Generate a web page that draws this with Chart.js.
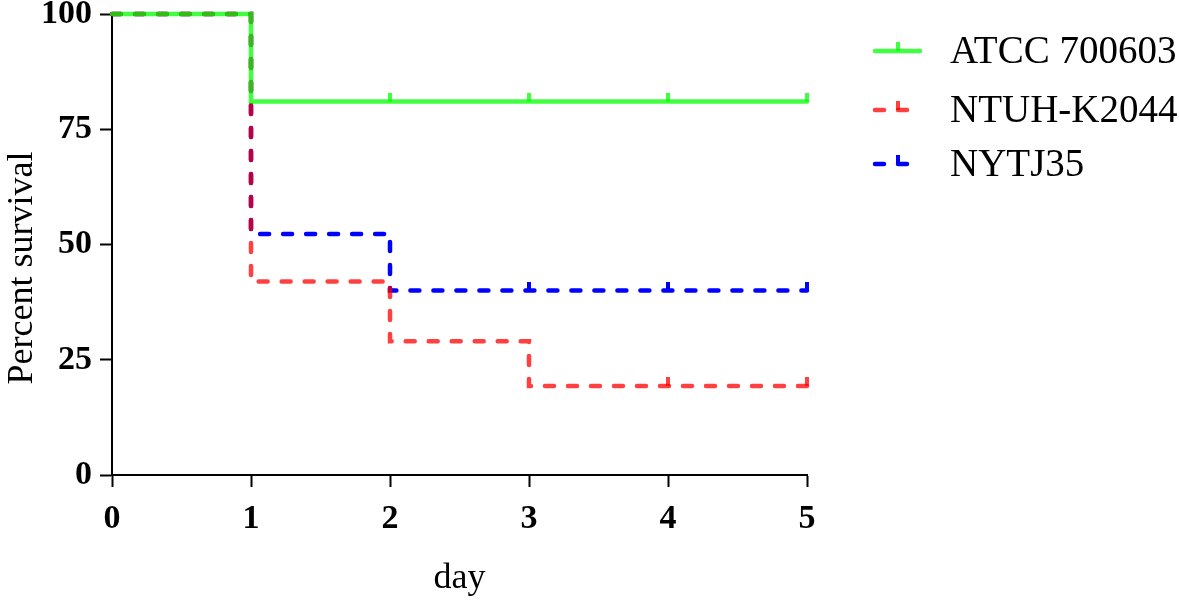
<!DOCTYPE html>
<html>
<head>
<meta charset="utf-8">
<script src="https://cdn.jsdelivr.net/npm/chart.js@4"></script>
<style>
  html, body { margin: 0; padding: 0; background: #fff; }
  #wrap { width: 1179px; height: 600px; }
</style>
</head>
<body>
<div id="wrap"><canvas id="survivalChart" width="1179" height="600"></canvas></div>
<script>
// Kaplan-Meier survival
const days = [0, 1, 2, 3, 4, 5];
const seriesNames = ["ATCC 700603", "NTUH-K2044", "NYTJ35"];
const atcc = [100, 81, 81, 81, 81, 81];
const ntuh = [100, 42, 29, 19.3, 19.3, 19.3];
const nytj = [100, 52.3, 40, 40, 40, 40];
// days with a censor mark
const atccCensor = [2, 3, 4, 5];
const ntuhCensor = [4, 5];
const nytjCensor = [3, 4, 5];
const yTicks = [0, 25, 50, 75, 100];

const serif = '"Liberation Serif", "Times New Roman", serif';

// small vertical tick sitting on top of the line
function censorMark(color) {
    const c = document.createElement("canvas");
    c.width = 4;
    c.height = 18;
    const g = c.getContext("2d");
    g.fillStyle = color;
    g.fillRect(0, 0, 4, 9);
    return c;
}

function makeSet(name, values, censor, color, dash) {
    return {
        label: name,
        data: days.map((d, i) => ({ x: d, y: values[i] })),
        stepped: "before",
        borderColor: color,
        backgroundColor: color,
        borderWidth: 4.5,
        borderDash: dash,
        borderCapStyle: "round",
        fill: false,
        clip: false,
        pointStyle: censorMark(color),
        pointRadius: ctx => censor.includes(ctx.raw.x) ? 4 : 0,
        pointHoverRadius: 0
    };
}

const datasets = [
    makeSet(seriesNames[0], atcc, atccCensor, "rgba(0, 255, 0, 0.75)", []),
    makeSet(seriesNames[1], ntuh, ntuhCensor, "rgba(255, 0, 0, 0.75)", [9, 14]),
    makeSet(seriesNames[2], nytj, nytjCensor, "rgb(0, 0, 255)", [9, 14])
];

const legendPlugin = {
    id: "sideLegend",
    afterDraw(chart) {
        const g = chart.ctx;
        const rows = [51, 110, 164];
        chart.data.datasets.forEach((ds, i) => {
            const y = rows[i];
            g.save();
            g.strokeStyle = ds.borderColor;
            g.lineWidth = 4.5;
            g.lineCap = "round";
            g.setLineDash(ds.borderDash);
            g.beginPath();
            g.moveTo(875, y);
            g.lineTo(920, y);
            g.stroke();
            g.setLineDash([]);
            g.fillStyle = ds.borderColor;
            g.fillRect(896, y - 9, 4, 9);
            g.fillStyle = "#000";
            g.font = "39px " + serif;
            g.textBaseline = "middle";
            g.textAlign = "left";
            g.fillText(ds.label, 950, y + 2);
            g.restore();
        });
    }
};

const yTitlePlugin = {
    id: "yTitle",
    afterDraw(chart) {
        const g = chart.ctx;
        g.save();
        g.translate(32, 268);
        g.rotate(-Math.PI / 2);
        g.font = "36px " + serif;
        g.fillStyle = "#000";
        g.textAlign = "center";
        g.textBaseline = "alphabetic";
        g.fillText("Percent survival", 0, 0);
        g.restore();
    }
};

const axisGrid = len => ({
    display: true,
    drawOnChartArea: false,
    drawTicks: true,
    tickLength: len,
    tickWidth: 2,
    tickColor: "#000"
});

new Chart(document.getElementById("survivalChart").getContext("2d"), {
    type: "line",
    data: { datasets: datasets },
    options: {
        responsive: false,
        animation: false,
        events: [],
        layout: { padding: { left: 0, top: 14, right: 372, bottom: 0 } },
        plugins: {
            legend: { display: false },
            tooltip: { enabled: false }
        },
        scales: {
            x: {
                type: "linear",
                min: 0,
                max: 5,
                grid: axisGrid(12),
                border: { color: "#000", width: 2 },
                ticks: {
                    stepSize: 1,
                    color: "#000",
                    padding: 12,
                    font: { family: serif, size: 34, weight: "bold" }
                },
                title: {
                    display: true,
                    text: "day",
                    color: "#000",
                    padding: { top: 0, bottom: 0 },
                    font: { family: serif, size: 36 }
                },
                afterFit(scale) {
                    scale.height = 125;
                    scale.paddingLeft = 0;
                    scale.paddingRight = 0;
                }
            },
            y: {
                min: 0,
                max: 100,
                grid: axisGrid(12),
                border: { color: "#000", width: 2 },
                afterBuildTicks(scale) {
                    scale.ticks = yTicks.map(v => ({ value: v }));
                },
                ticks: {
                    color: "#000",
                    padding: 8,
                    font: { family: serif, size: 34, weight: "bold" }
                },
                afterFit(scale) {
                    scale.width = 112;
                    scale.paddingTop = 0;
                    scale.paddingBottom = 0;
                }
            }
        }
    },
    plugins: [legendPlugin, yTitlePlugin]
});
</script>
</body>
</html>
